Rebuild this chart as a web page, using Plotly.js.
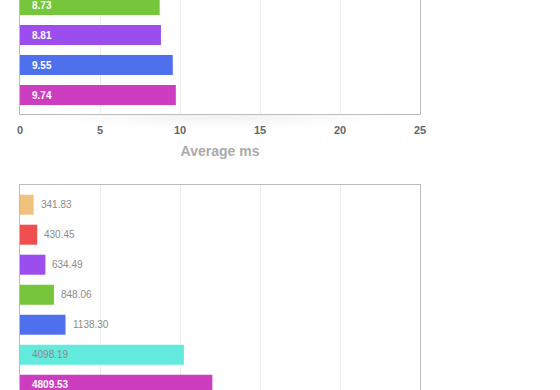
<!DOCTYPE html>
<html>
<head>
<meta charset="utf-8">
<script src="https://cdn.plot.ly/plotly-3.0.1.min.js"></script>
<style>
  html, body { margin: 0; padding: 0; width: 560px; height: 390px; overflow: hidden; background: #fff; }
  #wrap { position: relative; width: 560px; height: 390px; overflow: hidden; }
  #top { position: absolute; left: 0; top: -150px; width: 560px; height: 324px; }
  #bottom { position: absolute; left: 0; top: 175px; width: 560px; height: 400px; }
  #shadow { position: absolute; left: 40px; top: 115px; width: 360px; height: 14px;
            background: radial-gradient(ellipse 50% 100% at 50% 0%, rgba(0,0,0,0.06), rgba(0,0,0,0) 100%); }
</style>
</head>
<body>
<div id="wrap">
  <div id="shadow"></div>
  <div id="top"></div>
  <div id="bottom"></div>
</div>
<script>
// ---- Data ----
var topCategories = ['t1', 't2', 't3', 't4'];
var topValues = [8.73, 8.81, 9.55, 9.74];
var topColors = ['#76c63b', '#9b4dee', '#4f70ec', '#cc3dbf'];
var topTickVals = [0, 5, 10, 15, 20, 25];
var topTickText = ['0', '5', '10', '15', '20', '25'];
var topAxisTitle = 'Average ms';

var bottomCategories = ['b1', 'b2', 'b3', 'b4', 'b5', 'b6', 'b7'];
var bottomValues = [341.83, 430.45, 634.49, 848.06, 1138.30, 4098.19, 4809.53];
var bottomColors = ['#f0c27d', '#ef4f4f', '#9b4dee', '#76c63b', '#4f70ec', '#62ebdd', '#cc3dbf'];
var bottomTickVals = [0, 2000, 4000, 6000, 8000, 10000];

// ---- helpers ----
var FONT = 'Liberation Sans, Arial, Helvetica, sans-serif';
function isLight(hex) {
  var r = parseInt(hex.substr(1, 2), 16), g = parseInt(hex.substr(3, 2), 16), b = parseInt(hex.substr(5, 2), 16);
  return (0.299 * r + 0.587 * g + 0.114 * b) > 170;
}
function fmt(v) { return v.toFixed(2); }

function buildChart(el, cats, vals, colors, xRange, tickVals, tickText, showTicks, yRange, margin, height, pxPerUnit, title) {
  var annotations = vals.map(function (v, i) {
    var inside = v * pxPerUnit > 70;
    var col = inside ? (isLight(colors[i]) ? '#8a8a8a' : '#ffffff') : '#8a8a8a';
    return {
      x: inside ? 0 : v, y: cats[i], xref: 'x', yref: 'y',
      text: fmt(v), showarrow: false, xanchor: 'left', yanchor: 'middle',
      xshift: inside ? 10 : 5,
      font: { family: FONT, size: 10, color: col, weight: inside && !isLight(colors[i]) ? 'bold' : 'normal' }
    };
  });
  var trace = {
    type: 'bar', orientation: 'h', x: vals, y: cats,
    marker: { color: colors, line: { width: 0 } },
    hoverinfo: 'none', showlegend: false
  };
  var layout = {
    width: 560, height: height,
    margin: margin,
    paper_bgcolor: 'rgba(0,0,0,0)', plot_bgcolor: 'rgba(0,0,0,0)',
    bargap: 1 / 3,
    xaxis: {
      range: xRange, tickvals: tickVals, ticktext: tickText, showticklabels: showTicks,
      showgrid: true, gridcolor: '#ececec', gridwidth: 1,
      zeroline: false, showline: true, mirror: true, linecolor: '#bbbbbb', linewidth: 1,
      ticks: '', ticklabelstandoff: 6,
      tickfont: { family: FONT, size: 11, color: '#666666', weight: 'bold' },
      title: title ? { text: title, standoff: 10, font: { family: FONT, size: 14, color: '#aaaaaa', weight: 'bold' } } : undefined,
      fixedrange: true
    },
    yaxis: {
      type: 'category', categoryorder: 'array', categoryarray: cats,
      range: yRange, autorange: false,
      showticklabels: false, showgrid: false, zeroline: false,
      showline: true, mirror: true, linecolor: '#bbbbbb', linewidth: 1,
      ticks: '', fixedrange: true
    },
    annotations: annotations,
    font: { family: FONT }
  };
  Plotly.newPlot(el, [trace], layout, { displayModeBar: false, staticPlot: true });
}

// top chart: plot area 400 x 264 px, 30 px per category
buildChart('top', topCategories, topValues, topColors, [0, 25], topTickVals, topTickText, true,
  [3.633, 3.633 - 264 / 30], { l: 20, r: 140, t: 0, b: 60 }, 324, 16, topAxisTitle);

// bottom chart: plot area 400 x 350 px (its axis labels lie below the visible window)
buildChart('bottom', bottomCategories, bottomValues, bottomColors, [0, 10000], bottomTickVals,
  bottomTickVals.map(String), false, [-0.657 + 350 / 30, -0.657], { l: 20, r: 140, t: 10, b: 40 }, 400, 0.04, null);
</script>
</body>
</html>
